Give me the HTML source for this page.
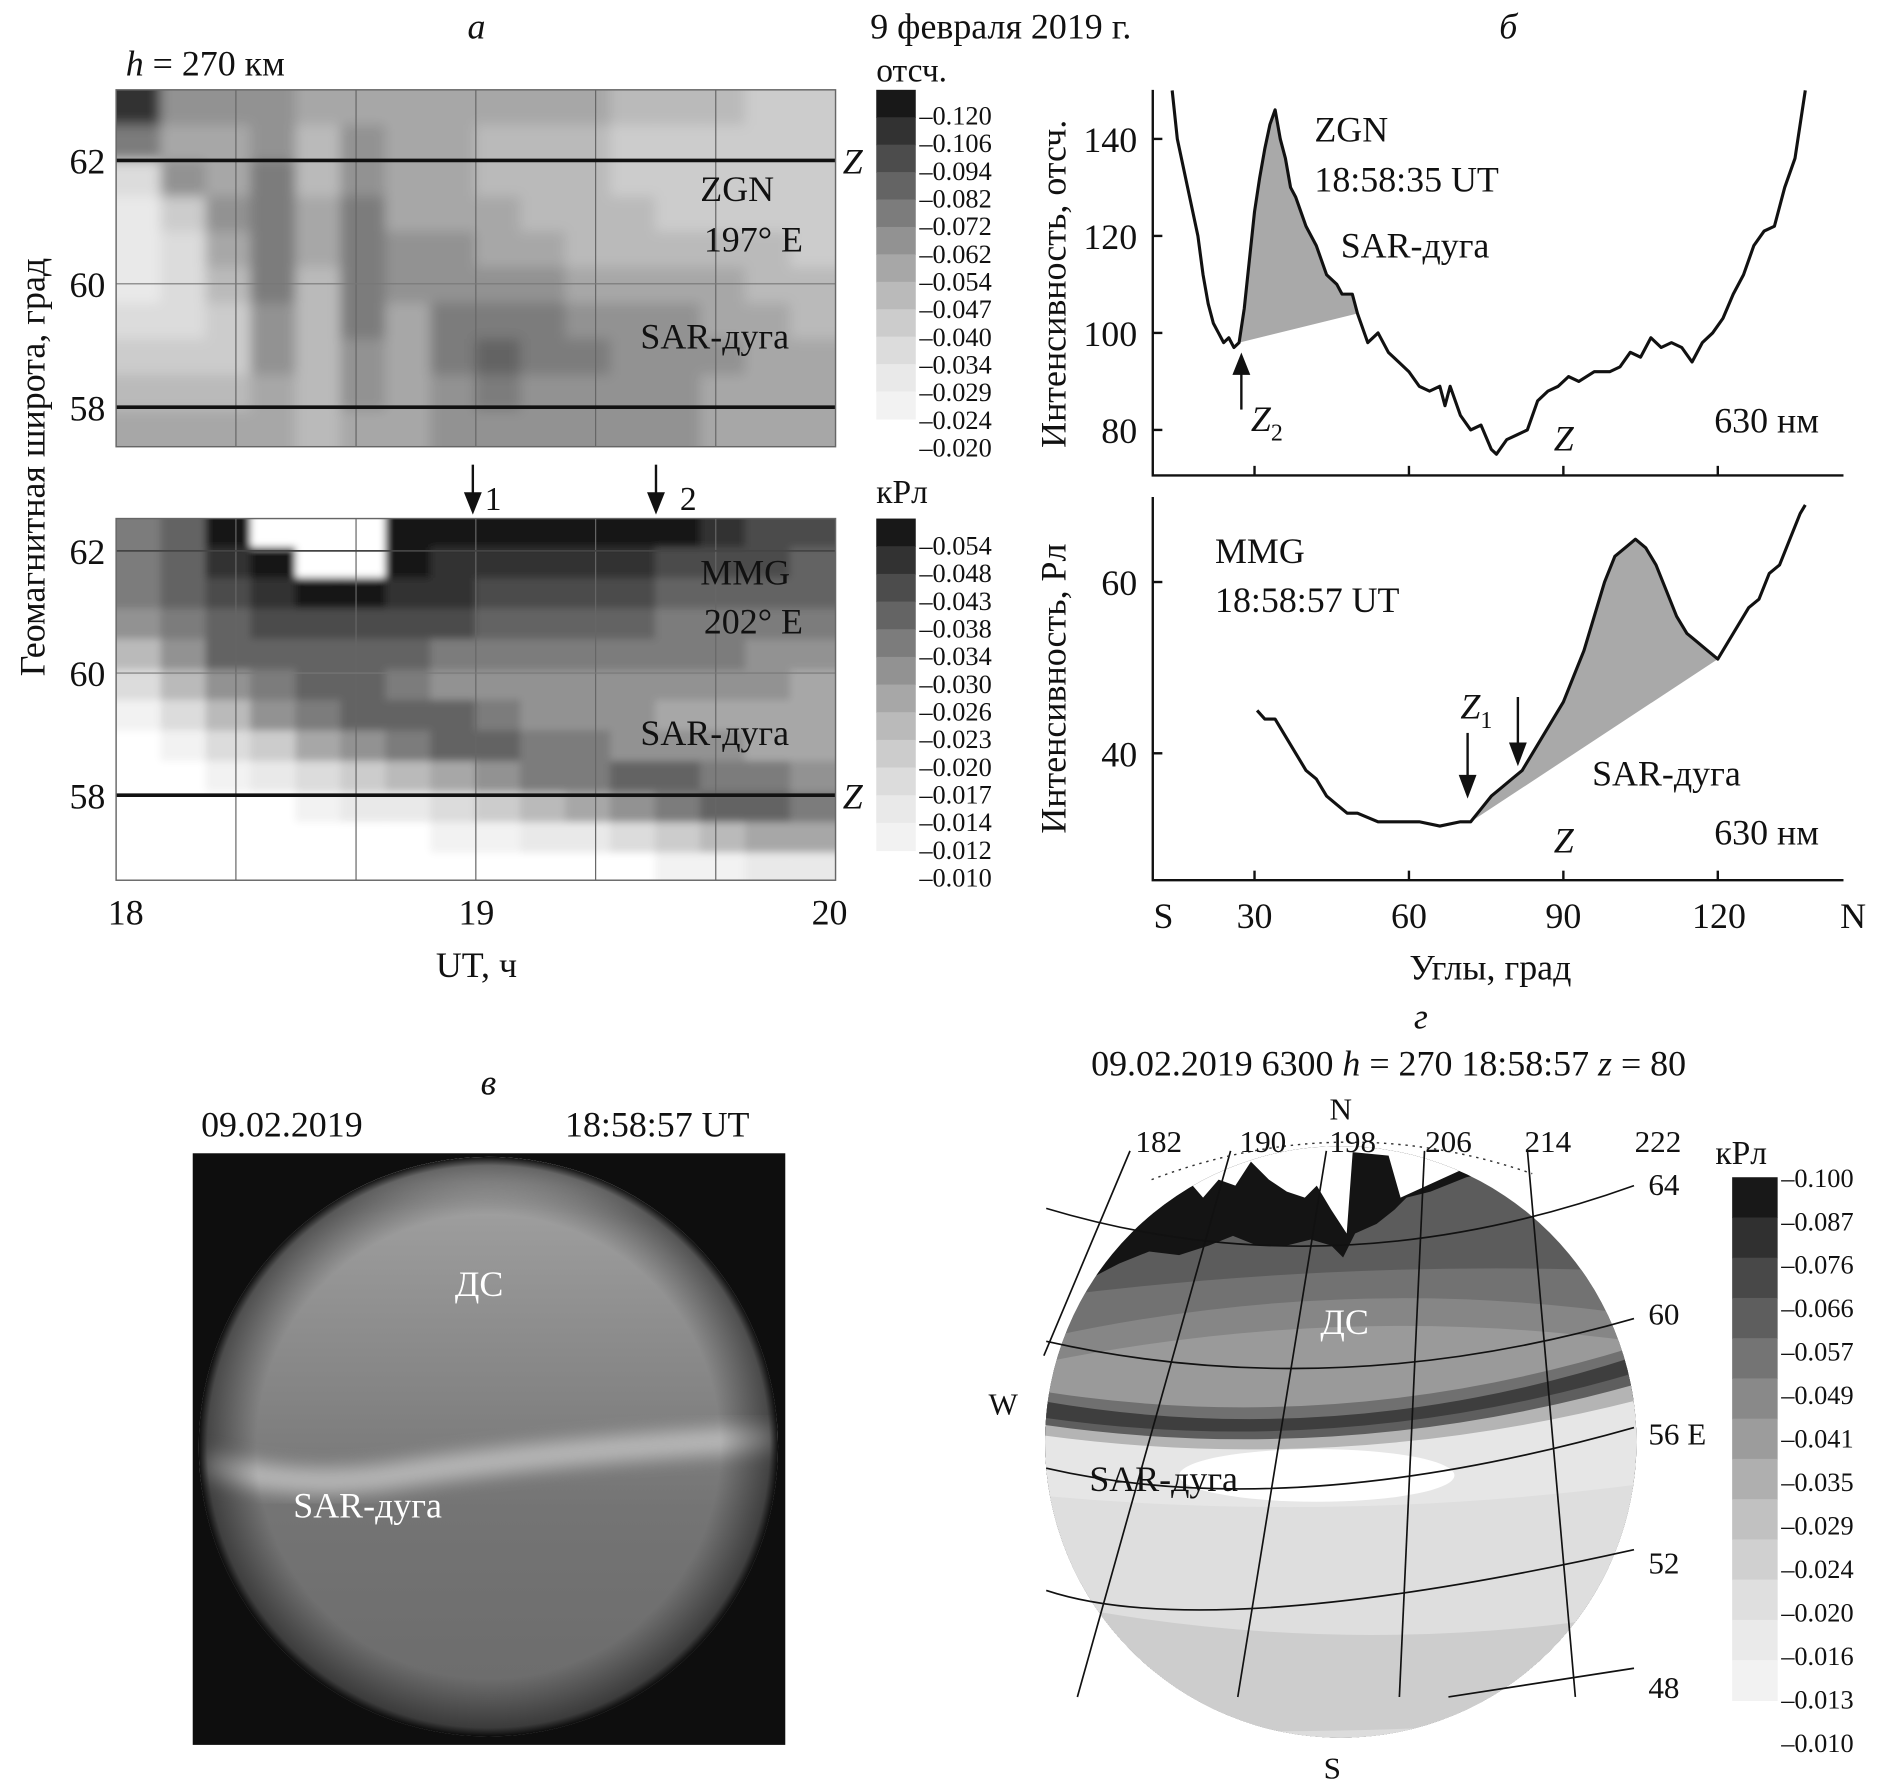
<!DOCTYPE html>
<html><head><meta charset="utf-8"><title>9 февраля 2019 г.</title>
<style>
html,body{margin:0;padding:0;background:#fff;}
svg{display:block;font-family:"Liberation Serif","DejaVu Serif",serif;}
text{fill:#111;}
</style></head>
<body>
<svg id="fig" xmlns="http://www.w3.org/2000/svg" viewBox="0 0 1568 1493" width="1877" height="1788" preserveAspectRatio="none">
<defs>
<clipPath id="clipA"><rect x="97" y="75" width="601" height="298"/></clipPath>
<clipPath id="clipB"><rect x="97" y="433" width="601" height="302"/></clipPath>
<clipPath id="clipG"><circle cx="1120" cy="1204" r="247"/></clipPath>
<clipPath id="clipV"><circle cx="408" cy="1208" r="242"/></clipPath>
<filter id="blur2" x="-5%" y="-5%" width="110%" height="110%"><feGaussianBlur stdDeviation="5"/></filter>
<filter id="blur6" x="-20%" y="-50%" width="140%" height="200%"><feGaussianBlur stdDeviation="7"/></filter>
<filter id="blur3" x="-5%" y="-5%" width="110%" height="110%"><feGaussianBlur stdDeviation="3"/></filter>
<linearGradient id="skyV" x1="0" y1="0" x2="0" y2="1">
<stop offset="0" stop-color="#b0b0b0"/><stop offset="0.12" stop-color="#9c9c9c"/><stop offset="0.4" stop-color="#858585"/><stop offset="0.6" stop-color="#747474"/><stop offset="1" stop-color="#6a6a6a"/>
</linearGradient>
<radialGradient id="vig" cx="0.5" cy="0.5" r="0.5">
<stop offset="0.8" stop-color="#000" stop-opacity="0"/><stop offset="0.97" stop-color="#000" stop-opacity="0.45"/><stop offset="1" stop-color="#000" stop-opacity="0.9"/>
</radialGradient>
</defs>

<text x="398" y="32" font-size="30" font-style="italic" text-anchor="middle">а</text>
<text x="727" y="32" font-size="30">9 февраля 2019 г.</text>
<text x="1260" y="32" font-size="30" font-style="italic" text-anchor="middle">б</text>
<text x="105" y="63" font-size="30"><tspan font-style="italic">h</tspan> = 270 км</text>
<text x="732" y="68" font-size="28">отсч.</text>
<text x="732" y="420" font-size="28">кРл</text>

<g id="heatA" clip-path="url(#clipA)"><g id="heatAin" filter="url(#blur2)"></g></g>
<g id="heatB" clip-path="url(#clipB)"><g id="heatBin" filter="url(#blur3)"></g></g>
<g id="gridA"></g>
<g id="barA"></g>
<g id="barB"></g>

<text x="704" y="145" font-size="30" font-style="italic">Z</text>
<text x="704" y="675" font-size="30" font-style="italic">Z</text>
<text x="585" y="168" font-size="30">ZGN</text>
<text x="588" y="210" font-size="30">197° E</text>
<text x="535" y="291" font-size="30">SAR-дуга</text>
<text x="585" y="488" font-size="30">MMG</text>
<text x="588" y="529" font-size="30">202° E</text>
<text x="535" y="622" font-size="30">SAR-дуга</text>
<g stroke="#111" stroke-width="2" fill="#111">
<line x1="395" y1="388" x2="395" y2="420"/><polygon points="389,412 401,412 395,427"/></g>
<text x="405" y="426" font-size="28">1</text>
<g stroke="#111" stroke-width="2" fill="#111">
<line x1="548" y1="388" x2="548" y2="420"/><polygon points="542,412 554,412 548,427"/></g>
<text x="568" y="426" font-size="28">2</text>

<g font-size="30" text-anchor="end">
<text x="88" y="145">62</text><text x="88" y="248">60</text><text x="88" y="351">58</text>
<text x="88" y="471">62</text><text x="88" y="573">60</text><text x="88" y="675">58</text></g>
<text font-size="30" text-anchor="middle" transform="translate(37,390) rotate(-90)">Геомагнитная широта, град</text>
<g font-size="30" text-anchor="middle">
<text x="105" y="772">18</text><text x="398" y="772">19</text><text x="693" y="772">20</text></g>
<text x="398" y="816" font-size="30" text-anchor="middle">UT, ч</text>

<g id="plotB"></g>
<g font-size="30" text-anchor="end">
<text x="950" y="127">140</text><text x="950" y="208">120</text><text x="950" y="289">100</text><text x="950" y="370">80</text></g>
<g font-size="30" text-anchor="end">
<text x="950" y="497">60</text><text x="950" y="640">40</text></g>
<text font-size="30" text-anchor="middle" transform="translate(890,237) rotate(-90)">Интенсивность, отсч.</text>
<text font-size="30" text-anchor="middle" transform="translate(890,575) rotate(-90)">Интенсивность, Рл</text>
<text x="1098" y="118" font-size="30">ZGN</text>
<text x="1098" y="160" font-size="30">18:58:35 UT</text>
<text x="1120" y="215" font-size="30">SAR-дуга</text>
<g stroke="#111" stroke-width="2" fill="#111">
<line x1="1037" y1="342" x2="1037" y2="305"/><polygon points="1031,312 1043,312 1037,297"/></g>
<text x="1045" y="360" font-size="30" font-style="italic">Z<tspan font-size="20" dy="8" font-style="normal">2</tspan></text>
<text x="1298" y="376" font-size="30" font-style="italic">Z</text>
<text x="1432" y="361" font-size="30">630 нм</text>
<text x="1015" y="470" font-size="30">MMG</text>
<text x="1015" y="511" font-size="30">18:58:57 UT</text>
<text x="1220" y="600" font-size="30" font-style="italic">Z<tspan font-size="20" dy="8" font-style="normal">1</tspan></text>
<g stroke="#111" stroke-width="2" fill="#111">
<line x1="1226" y1="612" x2="1226" y2="655"/><polygon points="1220,648 1232,648 1226,664"/>
<line x1="1268" y1="582" x2="1268" y2="628"/><polygon points="1262,621 1274,621 1268,637"/></g>
<text x="1330" y="656" font-size="30">SAR-дуга</text>
<text x="1298" y="712" font-size="30" font-style="italic">Z</text>
<text x="1432" y="705" font-size="30">630 нм</text>
<g font-size="30" text-anchor="middle">
<text x="972" y="775">S</text><text x="1048" y="775">30</text><text x="1177" y="775">60</text><text x="1306" y="775">90</text><text x="1436" y="775">120</text><text x="1548" y="775">N</text></g>
<text x="1245" y="818" font-size="30" text-anchor="middle">Углы, град</text>

<text x="408" y="914" font-size="30" font-style="italic" text-anchor="middle">в</text>
<text x="168" y="949" font-size="30">09.02.2019</text>
<text x="472" y="949" font-size="30">18:58:57 UT</text>
<g>
<rect x="161" y="963" width="495" height="494" fill="#0e0e0e"/>
<g clip-path="url(#clipV)">
<rect x="160" y="960" width="500" height="500" fill="url(#skyV)"/>
<path d="M168,1222 Q250,1245 330,1232 Q450,1212 652,1200" stroke="#d0d0d0" stroke-width="22" fill="none" opacity="0.7" filter="url(#blur6)"/>
<path d="M200,1000 Q410,950 620,1010" stroke="#c8c8c8" stroke-width="30" fill="none" opacity="0.5" filter="url(#blur6)"/>
<circle cx="408" cy="1208" r="242" fill="url(#vig)"/>
</g>
<text x="380" y="1082" font-size="30" style="fill:#fff">ДС</text>
<text x="245" y="1267" font-size="30" style="fill:#fff">SAR-дуга</text>
</g>

<text x="1187" y="859" font-size="30" font-style="italic" text-anchor="middle">г</text>
<text x="1160" y="898" font-size="30" text-anchor="middle">09.02.2019 6300 <tspan font-style="italic">h</tspan> = 270 18:58:57 <tspan font-style="italic">z</tspan> = 80</text>
<g id="mapG"></g>
<g id="barG"></g>
<text x="1433" y="972" font-size="28">кРл</text>
<g font-size="26">
<text x="1120" y="935" text-anchor="middle">N</text>
<text x="1113" y="1485" text-anchor="middle">S</text>
<text x="838" y="1181" text-anchor="middle">W</text>
<text x="968" y="962" text-anchor="middle">182</text><text x="1055" y="962" text-anchor="middle">190</text>
<text x="1130" y="962" text-anchor="middle">198</text><text x="1210" y="962" text-anchor="middle">206</text>
<text x="1293" y="962" text-anchor="middle">214</text><text x="1385" y="962" text-anchor="middle">222</text>
<text x="1377" y="998">64</text><text x="1377" y="1106">60</text><text x="1377" y="1206">56 E</text>
<text x="1377" y="1314">52</text><text x="1377" y="1418">48</text>
</g>
<g id="mapLabels2"></g>
</svg>
<script>
// ---------- data ----------
const zgnLevels=[0.020,0.024,0.029,0.034,0.040,0.047,0.054,0.062,0.072,0.082,0.094,0.106,0.120];
const zgnTimes=[18.0,18.125,18.25,18.375,18.5,18.625,18.75,18.875,19.0,19.125,19.25,19.375,19.5,19.625,19.75,19.875];
const zgnLats=[63.15,62.57,61.99,61.41,60.84,60.26,59.68,59.10,58.52,57.94];
const zgnGrid=[
[.094,.054,.054,.054,.047,.047,.047,.047,.047,.047,.047,.04,.04,.04,.034,.034],
[.062,.047,.047,.054,.04,.054,.047,.047,.04,.04,.04,.034,.034,.034,.034,.034],
[.029,.054,.047,.062,.04,.054,.047,.047,.04,.04,.04,.034,.034,.034,.034,.034],
[.024,.034,.054,.062,.047,.062,.047,.047,.047,.04,.04,.04,.034,.034,.034,.034],
[.024,.029,.047,.062,.047,.062,.054,.054,.047,.047,.04,.04,.04,.04,.04,.034],
[.024,.029,.04,.062,.04,.062,.054,.054,.054,.054,.047,.047,.047,.047,.04,.04],
[.029,.029,.034,.054,.04,.062,.047,.062,.062,.062,.054,.054,.054,.047,.047,.04],
[.034,.034,.034,.054,.04,.054,.047,.062,.072,.062,.062,.054,.054,.054,.047,.047],
[.04,.04,.04,.047,.04,.054,.047,.054,.062,.054,.054,.054,.054,.047,.047,.047],
[.047,.047,.047,.047,.04,.047,.047,.054,.054,.054,.054,.054,.054,.047,.047,.047]];
const mmgLevels=[0.010,0.012,0.014,0.017,0.020,0.023,0.026,0.030,0.034,0.038,0.043,0.048,0.054];
const mmgTimes=zgnTimes;
const mmgLats=[62.55,62.05,61.55,61.05,60.55,60.05,59.55,59.05,58.55,58.05,57.55,57.05];
const mmgGrid=[
[.03,.034,.06,0,0,0,.06,.06,.06,.06,.06,.054,.048,.043,.038,.038],
[.03,.034,.043,.06,0,0,.06,.043,.043,.043,.043,.043,.038,.038,.038,.034],
[.03,.034,.038,.043,.06,.06,.043,.043,.038,.038,.038,.038,.034,.034,.034,.034],
[.026,.03,.034,.038,.038,.038,.038,.038,.034,.034,.034,.034,.03,.03,.03,.03],
[.02,.026,.034,.034,.034,.034,.034,.03,.03,.03,.03,.03,.03,.03,.026,.026],
[.014,.02,.026,.03,.034,.034,.03,.026,.026,.026,.026,.026,.026,.026,.026,.023],
[.01,.014,.02,.026,.03,.034,.034,.034,.03,.026,.026,.026,.023,.023,.023,.023],
[.008,.01,.014,.017,.023,.026,.03,.034,.034,.03,.03,.026,.026,.026,.023,.023],
[.008,.008,.01,.012,.014,.017,.02,.023,.026,.03,.03,.034,.034,.03,.03,.026],
[.008,.008,.008,.008,.01,.012,.012,.014,.017,.02,.023,.026,.03,.034,.034,.03],
[.008,.008,.008,.008,.008,.008,.008,.01,.01,.012,.012,.014,.017,.02,.023,.023],
[.008,.008,.008,.008,.008,.008,.008,.008,.008,.008,.008,.008,.01,.01,.012,.012]];
const zgnAngles=[14,15,17,19,20,21,22,23,24,25,26,27,28,29,30,31,32,33,34,35,36,37,38,39,40,42,44,46,47,49,50,52,54,56,58,60,62,64,66,67,68,70,72,74,76,77,79,81,83,85,87,89,91,93,96,99,101,103,105,107,109,111,113,115,117,119,121,123,125,127,129,131,133,135,137];
const zgnIntensity=[150,140,130,120,112,106,102,100,98,99,97,98,105,115,125,132,138,143,146,140,136,130,128,125,122,118,112,110,108,108,104,98,100,96,94,92,89,88,89,85,89,83,80,81,76,75,78,79,80,86,88,89,91,90,92,92,93,96,95,99,97,98,97,94,98,100,103,108,112,118,121,122,130,136,150];
const zgnArcStart=27, zgnArcEnd=50;
const mmgAngles=[30.5,32,34,36,38,40,42,44,46,48,50,54,58,62,66,70,72,74,76,78,80,82,84,86,88,90,92,94,96,98,100,102,104,106,108,110,112,114,116,118,120,122,124,126,128,130,132,134,136,137];
const mmgIntensity=[45,44,44,42,40,38,37,35,34,33,33,32,32,32,31.5,32,32,33.5,35,36,37,38,40,42,44,46,49,52,56,60,63,64,65,64,62,59,56,54,53,52,51,53,55,57,58,61,62,65,68,69];
const mmgArcStart=72, mmgArcEnd=120;
const mapLevels=[0.100,0.087,0.076,0.066,0.057,0.049,0.041,0.035,0.029,0.024,0.020,0.016,0.013,0.010];

const NS='http://www.w3.org/2000/svg';
const xA=t=>97+(t-18)*300.5;
const yA=lat=>134+(62-lat)*51.5;
const yB=lat=>460+(62-lat)*51;
const xAng=a=>919+a*4.3;
const yZ=v=>278-(v-100)*4.05;
const yM=v=>629-(v-40)*7.15;
function el(tag,attrs,parent){const e=document.createElementNS(NS,tag);for(const k in attrs)e.setAttribute(k,attrs[k]);parent.appendChild(e);return e;}
function grayFor(i,n){const f=Math.pow(i/(n-1),1.35);const g=Math.round(242-f*218);return 'rgb('+g+','+g+','+g+')';}
function levelIdx(v,lv){if(v<lv[0])return -1;let i=0;while(i<lv.length-2&&v>=lv[i+1])i++;return i;}

function drawHeat(parent,times,lats,grid,levels,yS,dLat,name){
  const dt=times[1]-times[0];
  const nr=grid.length,nc=grid[0].length;
  grid.forEach((row,r)=>row.forEach((v,c)=>{
    const i=levelIdx(v,levels);
    let x0=xA(times[c]),x1=xA(times[c]+dt),y0=yS(lats[r]),y1=yS(lats[r]-dLat);
    if(c===0)x0-=12; if(c===nc-1)x1+=12; if(r===0)y0-=12; if(r===nr-1)y1+=12;
    const rc=el('rect',{x:x0-0.5,y:y0-0.5,width:x1-x0+1,height:y1-y0+1,fill:i<0?'#ffffff':grayFor(i,levels.length-1)},parent);
    
    
  }));
}
drawHeat(document.getElementById('heatAin'),zgnTimes,zgnLats,zgnGrid,zgnLevels,yA,0.579,'zgn-cell');
drawHeat(document.getElementById('heatBin'),mmgTimes,mmgLats,mmgGrid,mmgLevels,yB,0.5,'mmg-cell');

const gA=document.getElementById('gridA');
[18.333,18.667,19,19.333,19.667].forEach(t=>{
  const l1=el('line',{x1:xA(t),x2:xA(t),y1:75,y2:373,stroke:'#666','stroke-width':1},gA);
  
  
  const l2=el('line',{x1:xA(t),x2:xA(t),y1:433,y2:735,stroke:'#666','stroke-width':1},gA);
  
  
});
[[yA(60),1,'#777'],[yA(62),3,'#111'],[yA(58),3,'#111'],[yB(60),1,'#777'],[yB(62),1.5,'#444'],[yB(58),3,'#111']].forEach(d=>{
  const l=el('line',{x1:97,x2:698,y1:d[0],y2:d[0],stroke:d[2],'stroke-width':d[1]},gA);
  
  
});
[[75,298],[433,302]].forEach(d=>{
  const f=el('rect',{x:97,y:d[0],width:601,height:d[1],fill:'none',stroke:'#666','stroke-width':1.2},gA);
  
  
});

function drawBar(parent,levels,x,w,top,step,labelTop,labelStep,reverseDark,name){
  const n=levels.length-1;
  for(let i=0;i<n;i++){
    const r=el('rect',{x:x,y:top+i*step,width:w,height:step+0.5,fill:grayFor(n-1-i,n)},parent);
    
    
  }
  const ticks=reverseDark?levels:levels.slice().reverse();
  ticks.forEach((v,i)=>{
    const t=el('text',{x:x+w+3,y:labelTop+i*labelStep+8,'font-size':22},parent);
    t.textContent='–'+v.toFixed(3);
    
    
  });
}
drawBar(document.getElementById('barA'),zgnLevels,732,33,75,22.9,96,23.1,false,'colorbar-zgn');
drawBar(document.getElementById('barB'),mmgLevels,732,33,433,23.1,455,23.1,false,'colorbar-mmg');
drawBar(document.getElementById('barG'),mapLevels,1447,38,983,33.6,983,36.3,true,'colorbar-map');

const pB=document.getElementById('plotB');
function axesL(y0,y1,name){
  const a=el('path',{d:'M963,'+y0+' L963,'+y1+' L1540,'+y1,fill:'none',stroke:'#111','stroke-width':2},pB);
  
  
  [30,60,90,120].forEach(v=>{
    const t=el('line',{x1:xAng(v),x2:xAng(v),y1:y1,y2:y1-8,stroke:'#111','stroke-width':2},pB);
    
    
  });
}
axesL(75,397,'axes-zgn-profile');
axesL(415,735,'axes-mmg-profile');
[140,120,100,80].forEach(v=>{
  const t=el('line',{x1:963,x2:971,y1:yZ(v),y2:yZ(v),stroke:'#111','stroke-width':2},pB);
  
  
});
[60,40].forEach(v=>{
  const t=el('line',{x1:963,x2:971,y1:yM(v),y2:yM(v),stroke:'#111','stroke-width':2},pB);
  
  
});
function drawProfile(angles,vals,yS,a0,a1,name){
  const i0=angles.indexOf(a0),i1=angles.indexOf(a1);
  let d='M'+xAng(angles[i0])+','+yS(vals[i0]);
  for(let i=i0+1;i<=i1;i++)d+=' L'+xAng(angles[i])+','+yS(vals[i]);
  d+=' Z';
  const s=el('path',{d:d,fill:'#a9a9a9',stroke:'none'},pB);
  
  
  const pts=angles.map((a,i)=>xAng(a)+','+yS(vals[i])).join(' ');
  const l=el('polyline',{points:pts,fill:'none',stroke:'#111','stroke-width':2.6,'stroke-linejoin':'round'},pB);
  
  
}
drawProfile(zgnAngles,zgnIntensity,yZ,zgnArcStart,zgnArcEnd,'zgn-profile');
drawProfile(mmgAngles,mmgIntensity,yM,mmgArcStart,mmgArcEnd,'mmg-profile');

const mG=document.getElementById('mapG');
const cg=el('g',{'clip-path':'url(#clipG)'},mG);


function band(yL,yC,yR,fill,name){
  const cy=2*yC-(yL+yR)/2;
  const p=el('path',{d:'M860,'+yL+' Q1120,'+cy+' 1380,'+yR+' L1380,1500 L860,1500 Z',fill:fill},cg);
  
  
}
band(940,940,940,'#5c5c5c','map-band-dark');
band(1085,1062,1062,'#727272','map-band');
band(1120,1085,1100,'#868686','map-band');
band(1140,1108,1122,'#9a9a9a','map-band-ds');
band(1160,1172,1120,'#707070','map-band');
band(1168,1182,1128,'#3e3e3e','map-band-dark-core');
band(1182,1192,1142,'#5e5e5e','map-band');
band(1188,1199,1152,'#b4b4b4','map-band');
band(1197,1208,1166,'#e6e6e6','map-band-light');
const wc=el('ellipse',{cx:1100,cy:1232,rx:115,ry:22,fill:'#ffffff'},cg);


band(1248,1258,1238,'#dedede','map-band');
band(1335,1365,1345,'#cdcdcd','map-band');
band(1440,1445,1430,'#dcdcdc','map-band');
const blk=el('path',{d:'M860,940 L1380,940 L1380,985 L1300,978 L1262,975 L1225,983 L1195,995 L1175,1000 L1165,1010 L1150,1022 L1132,1030 L1122,1050 L1112,1040 L1095,1035 L1075,1040 L1050,1040 L1030,1032 L1010,1040 L985,1048 L960,1045 L935,1055 L910,1068 L885,1085 L860,1095 Z',fill:'#141414'},cg);


const wt=el('path',{d:'M860,940 L1380,940 L1380,950 L1290,955 L1262,972 L1240,978 L1225,975 L1170,1000 L1160,965 L1130,962 L1125,1030 L1112,1010 L1100,990 L1090,1000 L1075,995 L1060,985 L1045,970 L1032,990 L1018,985 L1005,1000 L992,985 L975,990 L960,985 L940,998 L925,1005 L860,1005 Z',fill:'#ffffff'},cg);


const meridians=[[944,961,872,1132],[1028,961,900,1417],[1108,961,1034,1417],[1190,961,1169,1417],[1276,961,1316,1417]];
meridians.forEach(m=>{
  const l=el('line',{x1:m[0],y1:m[1],x2:m[2],y2:m[3],stroke:'#111','stroke-width':1.4},mG);
  
  
});
const parallels=[[874,1009,1116,1040,1365,990],[874,1120,1116,1142,1365,1101],[874,1226,1099,1241,1365,1192],[874,1328,1065,1342,1365,1294]];
parallels.forEach(p=>{
  const cx=2*p[2]-(p[0]+p[4])/2, cy=2*p[3]-(p[1]+p[5])/2;
  const l=el('path',{d:'M'+p[0]+','+p[1]+' Q'+cx+','+cy+' '+p[4]+','+p[5],fill:'none',stroke:'#111','stroke-width':1.4},mG);
  
  
});
const p48=el('line',{x1:1210,y1:1417,x2:1365,y2:1393,stroke:'#111','stroke-width':1.4},mG);


const dot=el('path',{d:'M962,985 Q1120,925 1280,980',fill:'none',stroke:'#333','stroke-width':1.2,'stroke-dasharray':'2,4'},mG);


const lg=document.getElementById('mapLabels2');
const ds=el('text',{x:1103,y:1114,'font-size':30,style:'fill:#fff'},lg);
ds.textContent='ДС';


const sg=el('text',{x:910,y:1245,'font-size':30},lg);
sg.textContent='SAR-дуга';


</script>
</body></html>
